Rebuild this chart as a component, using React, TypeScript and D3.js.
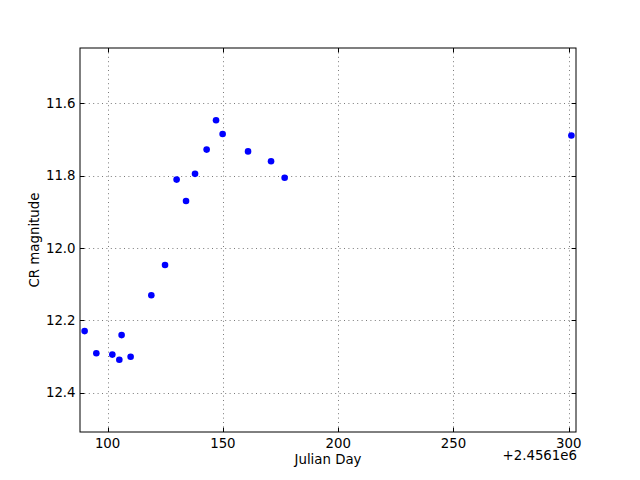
import React from "react";
import * as d3 from "d3";

const julianDays = [90.02, 95.1, 102.04, 105.08, 106.07, 109.98, 118.96, 124.9, 129.93, 134.01, 137.92, 142.95, 147.03, 149.89, 160.91, 170.89, 176.79, 301.17];
const magnitudes = [12.23, 12.291, 12.295, 12.309, 12.241, 12.301, 12.131, 12.047, 11.811, 11.87, 11.795, 11.728, 11.647, 11.685, 11.733, 11.76, 11.806, 11.689];
const xTicks = [100, 150, 200, 250, 300];
const yTicks = [11.6, 11.8, 12.0, 12.2, 12.4];

const W = 640, H = 480;
const L = 80, R = 576, T = 48, B = 432;
const FONT = "'DejaVu Sans', sans-serif";
const FS = 13.33;

export default function App() {
  const xMin = d3.min(julianDays)! - 2;
  const xMax = d3.max(julianDays)! + 2;
  const yMin = d3.min(magnitudes)! - 0.2;
  const yMax = d3.max(magnitudes)! + 0.2;
  const x = d3.scaleLinear().domain([xMin, xMax]).range([L, R]);
  const y = d3.scaleLinear().domain([yMin, yMax]).range([T, B]);
  const tl = 4.4;
  return (
    <svg width={W} height={H} style={{ position: "absolute", left: 0, top: 0, background: "#fff" }}>
      <rect x={0} y={0} width={W} height={H} fill="#fff" />
      {/* grid */}
      {xTicks.map((t) => (
        <line key={"gx" + t} x1={Math.round(x(t)) + 0.5} x2={Math.round(x(t)) + 0.5} y1={T} y2={B} stroke="#7a7a7a" strokeWidth={1} strokeDasharray="1,3.4" />
      ))}
      {yTicks.map((t) => (
        <line key={"gy" + t} y1={Math.round(y(t)) + 0.5} y2={Math.round(y(t)) + 0.5} x1={L} x2={R} stroke="#7a7a7a" strokeWidth={1} strokeDasharray="1,3.4" />
      ))}
      {/* points */}
      {julianDays.map((d, i) => (
        <circle key={i} cx={x(d)} cy={y(magnitudes[i])} r={3.3} fill="#0000ff" />
      ))}
      {/* ticks */}
      {xTicks.map((t) => {
        const px = Math.round(x(t)) + 0.5;
        return (
          <g key={"tx" + t}>
            <line x1={px} x2={px} y1={B} y2={B - tl} stroke="#000" strokeWidth={1} />
            <line x1={px} x2={px} y1={T} y2={T + tl} stroke="#000" strokeWidth={1} />
            <text x={x(t)} y={447.5} textAnchor="middle" fontFamily={FONT} fontSize={FS} fill="#000">{t}</text>
          </g>
        );
      })}
      {yTicks.map((t) => {
        const py = Math.round(y(t)) + 0.5;
        return (
          <g key={"ty" + t}>
            <line x1={L} x2={L + tl} y1={py} y2={py} stroke="#000" strokeWidth={1} />
            <line x1={R} x2={R - tl} y1={py} y2={py} stroke="#000" strokeWidth={1} />
            <text x={75.6} y={y(t)} dy="0.35em" textAnchor="end" fontFamily={FONT} fontSize={FS} fill="#000">{t.toFixed(1)}</text>
          </g>
        );
      })}
      {/* frame */}
      <rect x={L} y={T} width={R - L} height={B - T} fill="none" stroke="#000" strokeWidth={1} />
      {/* labels */}
      <text x={(L + R) / 2} y={463.5} textAnchor="middle" fontFamily={FONT} fontSize={FS} fill="#000">Julian Day</text>
      <text x={577} y={460} textAnchor="end" fontFamily={FONT} fontSize={FS} fill="#000">+2.4561e6</text>
      <text transform={`translate(39,${(T + B) / 2}) rotate(-90)`} textAnchor="middle" fontFamily={FONT} fontSize={FS} fill="#000">CR magnitude</text>
    </svg>
  );
}
